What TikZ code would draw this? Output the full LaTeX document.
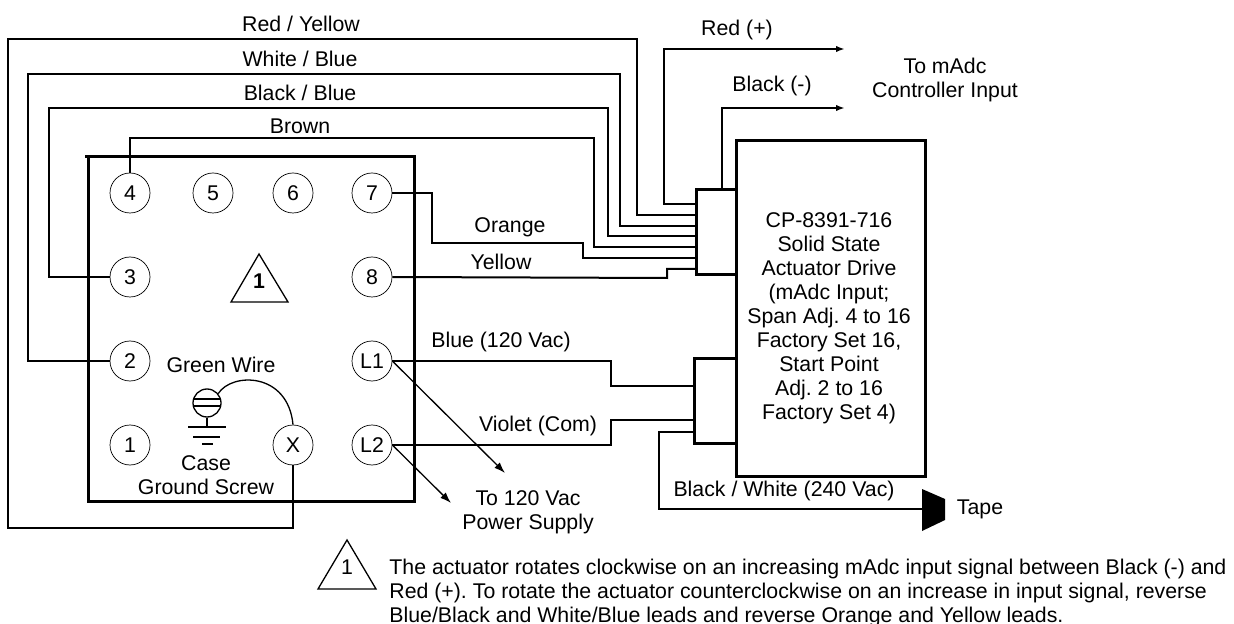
\documentclass[tikz,border=0pt]{standalone}
\usepackage{fontspec}
\setmainfont{Liberation Sans}
\usetikzlibrary{arrows.meta}
\tikzset{>=latex}
\tikzstyle{thickline}=[line width=1.5pt]
\tikzstyle{wire}=[line width=1pt]
\tikzstyle{thinwire}=[line width=0.65pt]
\tikzstyle{myarr}=[-{Latex[length=4.5,width=3.2]}]
\tikzstyle{mybigarr}=[-{Latex[length=5.5,width=3.8]}]
\tikzstyle{lbl}=[inner sep=0,align=center,font=\fontsize{10.65}{12}\selectfont\frenchspacing]
\tikzstyle{term}=[lbl,draw,circle,line width=0.35pt,minimum size=20]
\begin{document}
\begin{tikzpicture}[x=0.5pt,y=-0.5pt]
	\useasboundingbox (0,0) rectangle (1234,624);
	
	% TERMINALS
	\node[term] (T4) at (130,193) {4};
	\node[term] (T5) at (213,193) {5};
	\node[term] (T6) at (293,193) {6};
	\node[term] (T7) at (372,193) {7};
	\node[term] (T3) at (130,277) {3};
	\node[term] (T8) at (372,277) {8};
	\node[term] (T2) at (130,361) {2};
	\node[term] (TL1) at (372,361) {L1};
	\node[term] (T1) at (130,445) {1};
	\node[term] (TX) at (293,445) {X};
	\node[term] (TL2) at (372,445) {L2};
	
	% PINS
	\coordinate (PA) at (696,204);
	\coordinate (PB) at (696,215);
	\coordinate (PC) at (696,226);
	\coordinate (PD) at (696,236);
	\coordinate (PE) at (696,247);
	\coordinate (PF) at (696,258);
	\coordinate (PG) at (696,269);
	\coordinate (PH) at (722,190);
	\coordinate (QA) at (694,386);
	\coordinate (QB) at (694,420);
	\coordinate (QC) at (694,432);
	\coordinate (EndR) at (845,49);
	\coordinate (EndK) at (845,108);
	\coordinate (EndA) at (505,473);
	\coordinate (EndB) at (451,503);
	\coordinate (TapeL) at (923,509);
	
	% BOXES
	\draw[thickline] (85,157) -- (414,157) -- (414,501) -- (88,501) -- (88,157);
	\draw[thickline] (736,141) rectangle (925,476);
	\draw[thickline] (736,190) -- (696,190) -- (696,275) -- (736,275);
	\draw[thickline] (736,359) -- (694,359) -- (694,443) -- (736,443);
	
	% WIRES
	\draw[wire] (TX.south) -- (293,528) -- (8,528) -- (8,39) -- (637,39) -- (637,215) -- (PB);
	\draw[wire] (T2.west) -- (28,361) -- (28,74) -- (620,74) -- (620,226) -- (PC);
	\draw[wire] (T3.west) -- (49,277) -- (49,108) -- (608,108) -- (608,236) -- (PD);
	\draw[wire] (T4.north) -- (130,138) -- (594,138) -- (594,247) -- (PE);
	\draw[wire] (T7.east) -- (432,193) -- (432,243) -- (583,243) -- (583,258) -- (PF);
	\draw[wire] (T8.east) -- (667,278) -- (667,269) -- (PG);
	\draw[wire] (TL1.east) -- (611,361) -- (611,386) -- (QA);
	\draw[wire] (TL2.east) -- (611,445) -- (611,420) -- (QB);
	\draw[wire] (QC) -- (659,432) -- (659,509) -- (TapeL);
	\draw[wire,myarr] (PA) -- (664,204) -- (664,49) -- (EndR);
	\draw[wire,myarr] (PH) -- (722,108) -- (EndK);
	\draw[thinwire,mybigarr] (TL1.east) -- (EndA);
	\draw[thinwire,mybigarr] (TL2.east) -- (EndB);
	
	% GROUND
	\node[draw,circle,thinwire,minimum size=14,inner sep=0] (GS) at (207,403) {};
	\draw[thinwire] (194,399) -- (220,399);
	\draw[thinwire] (194,406) -- (220,406);
	\coordinate (GT) at (207,427);
	\draw[thinwire] (GS.south) -- (GT);
	\draw[thinwire] (188,427) -- (226,427);
	\draw[thinwire] (193,437) -- (220,437);
	\draw[thinwire] (202,444) -- (213,444);
	\draw[thinwire] (GS.40) .. controls (232,372) and (288,372) .. (TX.north);
	
	% TAPE
	\fill (922,489) -- (945,499) -- (945,520) -- (922,531) -- cycle;
	
	% TRIANGLES
	\draw[thinwire] (259,254) -- (288,302) -- (231,302) -- cycle;
	\draw[thinwire] (347,540) -- (376,589) -- (318,589) -- cycle;
	\node[lbl] (NoteA) at (259,281) {\bfseries 1};
	\node[lbl] (NoteB) at (347,567) {1};
	
	% LABELS
	\node[lbl] (LRY) at (301,24) {Red / Yellow};
	\node[lbl] (LWB) at (300,59) {White / Blue};
	\node[lbl] (LKB) at (300,93) {Black / Blue};
	\node[lbl] (LBR) at (300,126) {Brown};
	\node[lbl] (LOR) at (510,227) {Orange};
	\node[lbl] (LYE) at (501,262) {Yellow};
	\node[lbl] (LRP) at (737,30) {Red (+)};
	\node[lbl] (LKM) at (772,86) {Black (-)};
	\node[lbl] (LCT) at (945,80) {To mAdc\\Controller Input};
	\node[lbl] (LBL) at (501,342) {Blue (120 Vac)};
	\node[lbl] (LVI) at (538,426) {Violet (Com)};
	\node[lbl] (LPS) at (528,512) {To 120 Vac\\Power Supply};
	\node[lbl] (LKW) at (784,491) {Black / White (240 Vac)};
	\node[lbl] (LTP) at (980,509) {Tape};
	\node[lbl] (LGW) at (221,365) {Green Wire};
	\node[lbl] (LGS) at (206,475) {Case\\Ground Screw};
	\node[lbl] (LDR) at (829,318) {CP-8391-716\\Solid State\\Actuator Drive\\(mAdc Input;\\Span Adj. 4 to 16\\Factory Set 16,\\Start Point\\Adj. 2 to 16\\Factory Set 4)};
	\node[lbl,anchor=west,align=left] (LNT) at (389,593) {The actuator rotates clockwise on an increasing mAdc input signal between Black (-) and\\Red (+). To rotate the actuator counterclockwise on an increase in input signal, reverse\\Blue/Black and White/Blue leads and reverse Orange and Yellow leads.};
\end{tikzpicture}
\end{document}
